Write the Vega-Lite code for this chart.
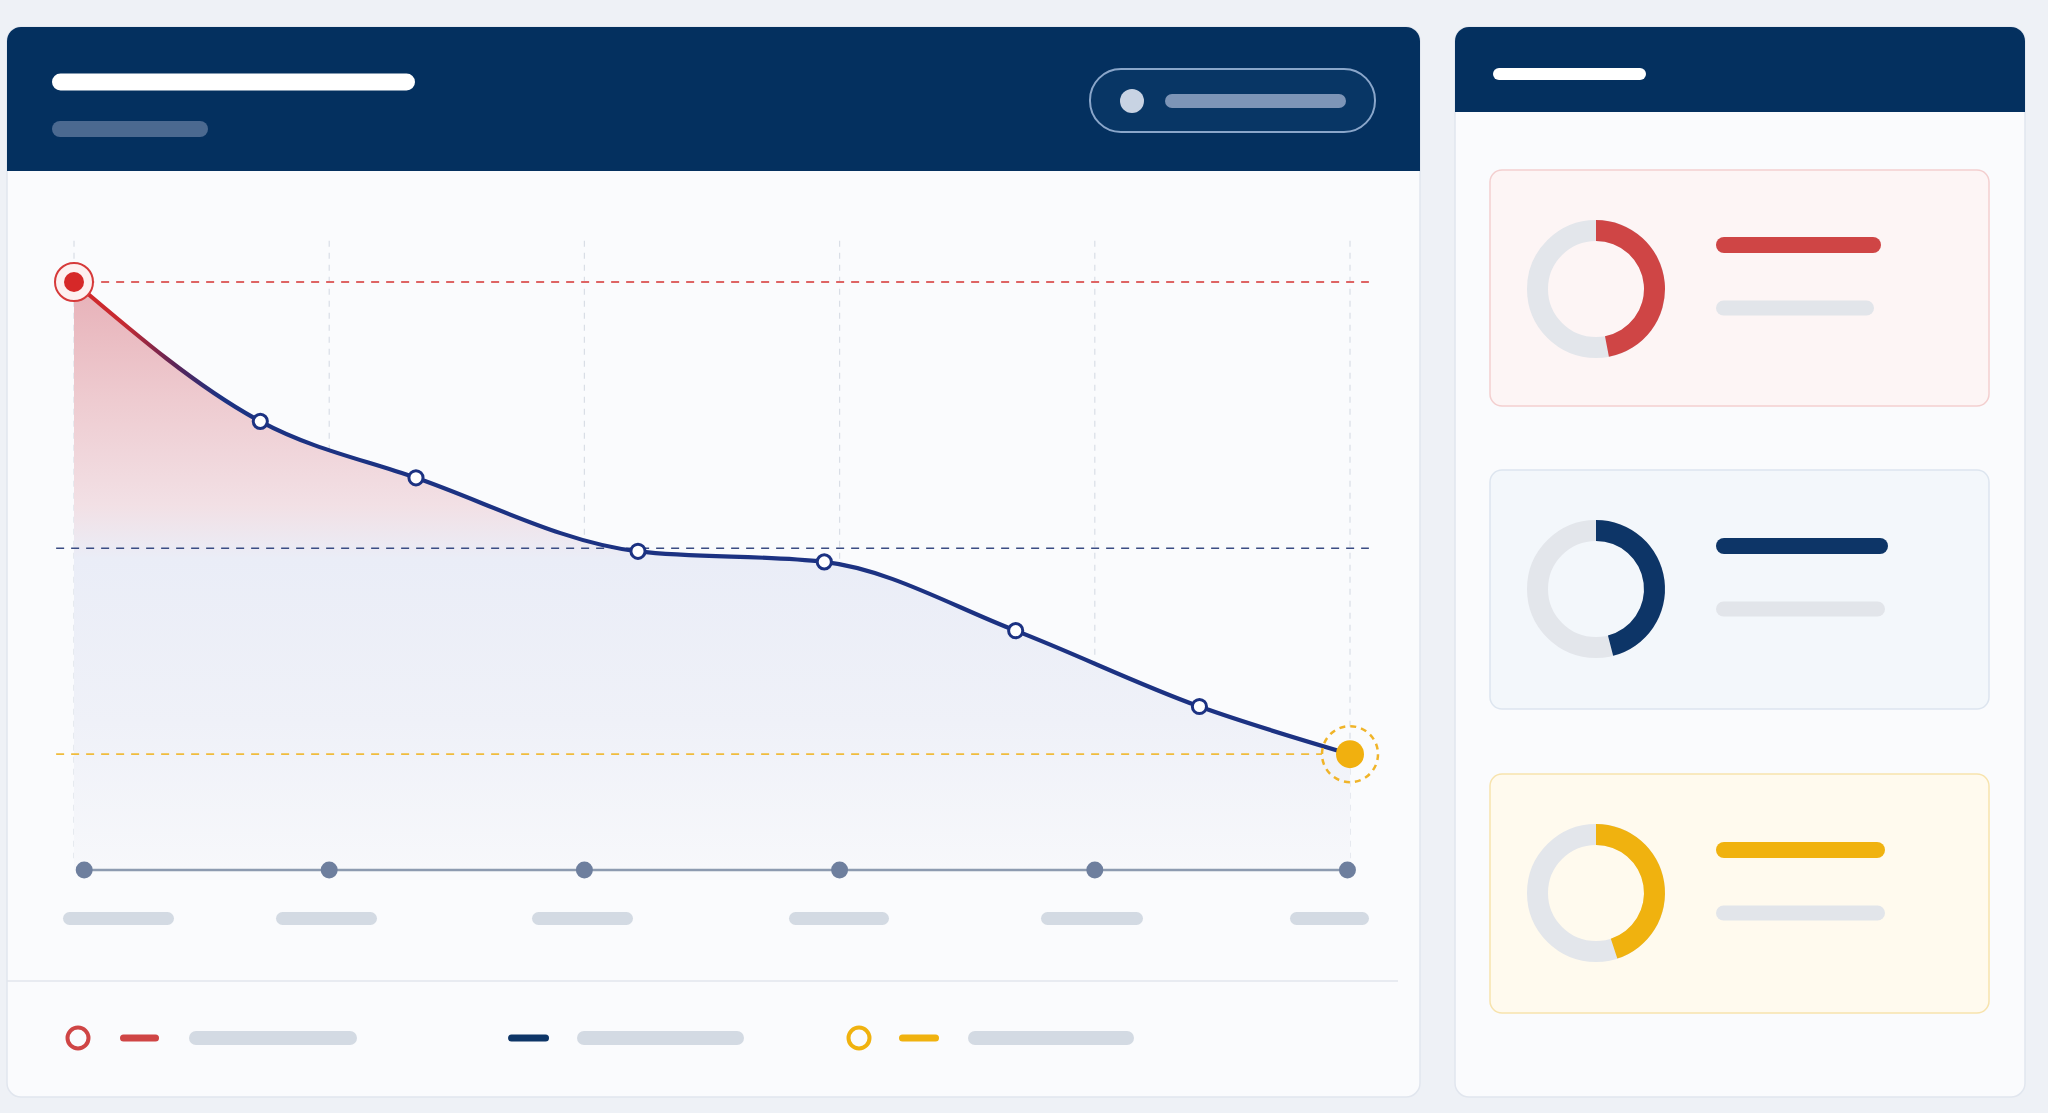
{
  "$schema": "https://vega.github.io/schema/vega-lite/v6.json",
  "width": 2048,
  "height": 1113,
  "autosize": {"type": "fit", "contains": "padding"},
  "padding": 0,
  "background": "#eef1f6",
  "config": {"view": {"stroke": null}, "axis": {"disable": true}, "legend": {"disable": true}},
  "datasets": {
    "panels": [
      {"panel": "trend", "x1": 7, "x2": 1420, "y1": 27, "y2": 1097},
      {"panel": "status", "x1": 1455, "x2": 2025, "y1": 27, "y2": 1097}
    ],
    "headers": [
      {"panel": "trend", "x1": 7, "x2": 1420, "y1": 27, "y2": 171},
      {"panel": "status", "x1": 1455, "x2": 2025, "y1": 27, "y2": 112}
    ],
    "toggle": [{"x1": 1090, "x2": 1375, "y1": 69, "y2": 132, "dotX": 1132, "dotY": 101}],
    "cards": [
      {"card": "peak", "x1": 1490, "x2": 1989, "y1": 170, "y2": 406},
      {"card": "average", "x1": 1490, "x2": 1989, "y1": 470, "y2": 709},
      {"card": "latest", "x1": 1490, "x2": 1989, "y1": 774, "y2": 1013}
    ],
    "dividers": [{"x1": 7, "x2": 1398, "y": 981}],
    "placeholders": [
      {"slot": "title", "x1": 60.5, "x2": 406.5, "y": 82},
      {"slot": "subtitle", "x1": 60, "x2": 200, "y": 129},
      {"slot": "toggleLabel", "x1": 1172, "x2": 1339, "y": 101},
      {"slot": "panelTitle", "x1": 1499, "x2": 1640, "y": 74},
      {"slot": "cardValue", "card": "peak", "x1": 1724, "x2": 1873, "y": 245},
      {"slot": "cardValue", "card": "average", "x1": 1724, "x2": 1880, "y": 546},
      {"slot": "cardValue", "card": "latest", "x1": 1724, "x2": 1877, "y": 850},
      {"slot": "cardNote", "x1": 1723.5, "x2": 1866.5, "y": 308},
      {"slot": "cardNote", "x1": 1723.5, "x2": 1877.5, "y": 609},
      {"slot": "cardNote", "x1": 1723.5, "x2": 1877.5, "y": 913},
      {"slot": "tickLabel", "x1": 69.5, "x2": 167.5, "y": 918.5},
      {"slot": "tickLabel", "x1": 282.5, "x2": 370.5, "y": 918.5},
      {"slot": "tickLabel", "x1": 538.5, "x2": 626.5, "y": 918.5},
      {"slot": "tickLabel", "x1": 795.5, "x2": 882.5, "y": 918.5},
      {"slot": "tickLabel", "x1": 1047.5, "x2": 1136.5, "y": 918.5},
      {"slot": "tickLabel", "x1": 1296.5, "x2": 1362.5, "y": 918.5},
      {"slot": "legendKey", "card": "peak", "x1": 123.5, "x2": 155.5, "y": 1038},
      {"slot": "legendKey", "card": "average", "x1": 511.5, "x2": 545.5, "y": 1038},
      {"slot": "legendKey", "card": "latest", "x1": 902.5, "x2": 935.5, "y": 1038},
      {"slot": "legendLabel", "x1": 196, "x2": 350, "y": 1038},
      {"slot": "legendLabel", "x1": 584, "x2": 737, "y": 1038},
      {"slot": "legendLabel", "x1": 975, "x2": 1127, "y": 1038}
    ],
    "legendMarks": [
      {"card": "peak", "x": 78, "y": 1038},
      {"card": "latest", "x": 859, "y": 1038}
    ],
    "shares": [
      {"card": "peak", "share": 47, "x": 1596, "y": 289},
      {"card": "average", "share": 46, "x": 1596, "y": 589},
      {"card": "latest", "share": 45, "x": 1596, "y": 893}
    ],
    "series": [
      {"t": 0, "v": 100},
      {"t": 0.73, "v": 76.3},
      {"t": 1.34, "v": 66.7},
      {"t": 2.21, "v": 54.2},
      {"t": 2.94, "v": 52.4},
      {"t": 3.69, "v": 40.7},
      {"t": 4.41, "v": 27.8},
      {"t": 5, "v": 19.7}
    ],
    "ticks": [{"t": 0}, {"t": 1}, {"t": 2}, {"t": 3}, {"t": 4}, {"t": 5}],
    "axisStops": [{"t": 0.04}, {"t": 1}, {"t": 2}, {"t": 3}, {"t": 4}, {"t": 4.99}]
  },
  "resolve": {"scale": {"x": "independent", "y": "independent"}},
  "layer": [
    {
      "layer": [
        {
          "data": {"name": "panels"},
          "mark": {"type": "rect", "cornerRadius": 16, "fill": "#d8dfe9", "opacity": 0.45, "yOffset": 3},
          "encoding": {
            "x": {"field": "x1", "type": "quantitative", "scale": {"domain": [0, 2048], "range": [0, 2048], "nice": false, "zero": false}},
            "x2": {"field": "x2"},
            "y": {"field": "y1", "type": "quantitative", "scale": {"domain": [0, 1113], "range": [0, 1113], "nice": false, "zero": false}},
            "y2": {"field": "y2"}
          }
        },
        {
          "data": {"name": "panels"},
          "mark": {"type": "rect", "cornerRadius": 14, "fill": "#fafbfd", "stroke": "#e1e6ee", "strokeWidth": 1.5},
          "encoding": {
            "x": {"field": "x1", "type": "quantitative", "scale": {"domain": [0, 2048], "range": [0, 2048], "nice": false, "zero": false}},
            "x2": {"field": "x2"},
            "y": {"field": "y1", "type": "quantitative", "scale": {"domain": [0, 1113], "range": [0, 1113], "nice": false, "zero": false}},
            "y2": {"field": "y2"}
          }
        },
        {
          "data": {"name": "headers"},
          "mark": {"type": "rect", "cornerRadiusTopLeft": 14, "cornerRadiusTopRight": 14, "fill": "#04305f"},
          "encoding": {
            "x": {"field": "x1", "type": "quantitative", "scale": {"domain": [0, 2048], "range": [0, 2048], "nice": false, "zero": false}},
            "x2": {"field": "x2"},
            "y": {"field": "y1", "type": "quantitative", "scale": {"domain": [0, 1113], "range": [0, 1113], "nice": false, "zero": false}},
            "y2": {"field": "y2"}
          }
        },
        {
          "data": {"name": "toggle"},
          "mark": {"type": "rect", "cornerRadius": 31, "fill": "#083665", "stroke": "#8aa6ca", "strokeWidth": 2},
          "encoding": {
            "x": {"field": "x1", "type": "quantitative", "scale": {"domain": [0, 2048], "range": [0, 2048], "nice": false, "zero": false}},
            "x2": {"field": "x2"},
            "y": {"field": "y1", "type": "quantitative", "scale": {"domain": [0, 1113], "range": [0, 1113], "nice": false, "zero": false}},
            "y2": {"field": "y2"}
          }
        },
        {
          "data": {"name": "toggle"},
          "mark": {"type": "point", "shape": "circle", "filled": true, "fill": "#c8d3e3", "opacity": 1, "size": 576},
          "encoding": {
            "x": {"field": "dotX", "type": "quantitative", "scale": {"domain": [0, 2048], "range": [0, 2048], "nice": false, "zero": false}},
            "y": {"field": "dotY", "type": "quantitative", "scale": {"domain": [0, 1113], "range": [0, 1113], "nice": false, "zero": false}}
          }
        },
        {
          "data": {"name": "cards"},
          "mark": {"type": "rect", "cornerRadius": 12, "strokeWidth": 1.5},
          "encoding": {
            "x": {"field": "x1", "type": "quantitative", "scale": {"domain": [0, 2048], "range": [0, 2048], "nice": false, "zero": false}},
            "x2": {"field": "x2"},
            "y": {"field": "y1", "type": "quantitative", "scale": {"domain": [0, 1113], "range": [0, 1113], "nice": false, "zero": false}},
            "y2": {"field": "y2"},
            "fill": {"field": "card", "type": "nominal", "scale": {"domain": ["peak", "average", "latest"], "range": ["#fdf5f5", "#f3f7fb", "#fffaee"]}},
            "stroke": {"field": "card", "type": "nominal", "scale": {"domain": ["peak", "average", "latest"], "range": ["#f3cfcf", "#dde5ef", "#f7e3ad"]}}
          }
        },
        {
          "data": {"name": "dividers"},
          "mark": {"type": "rule", "stroke": "#e2e6ed", "strokeWidth": 1.5},
          "encoding": {
            "x": {"field": "x1", "type": "quantitative", "scale": {"domain": [0, 2048], "range": [0, 2048], "nice": false, "zero": false}},
            "x2": {"field": "x2"},
            "y": {"field": "y", "type": "quantitative", "scale": {"domain": [0, 1113], "range": [0, 1113], "nice": false, "zero": false}}
          }
        },
        {
          "data": {"name": "placeholders"},
          "transform": [{"filter": "datum.slot === 'title'"}],
          "mark": {"type": "rule", "stroke": "#ffffff", "strokeWidth": 17, "strokeCap": "round"},
          "encoding": {
            "x": {"field": "x1", "type": "quantitative", "scale": {"domain": [0, 2048], "range": [0, 2048], "nice": false, "zero": false}},
            "x2": {"field": "x2"},
            "y": {"field": "y", "type": "quantitative", "scale": {"domain": [0, 1113], "range": [0, 1113], "nice": false, "zero": false}}
          }
        },
        {
          "data": {"name": "placeholders"},
          "transform": [{"filter": "datum.slot === 'subtitle'"}],
          "mark": {"type": "rule", "stroke": "#4b6990", "strokeWidth": 16, "strokeCap": "round"},
          "encoding": {
            "x": {"field": "x1", "type": "quantitative", "scale": {"domain": [0, 2048], "range": [0, 2048], "nice": false, "zero": false}},
            "x2": {"field": "x2"},
            "y": {"field": "y", "type": "quantitative", "scale": {"domain": [0, 1113], "range": [0, 1113], "nice": false, "zero": false}}
          }
        },
        {
          "data": {"name": "placeholders"},
          "transform": [{"filter": "datum.slot === 'toggleLabel'"}],
          "mark": {"type": "rule", "stroke": "#7d95b7", "strokeWidth": 14, "strokeCap": "round"},
          "encoding": {
            "x": {"field": "x1", "type": "quantitative", "scale": {"domain": [0, 2048], "range": [0, 2048], "nice": false, "zero": false}},
            "x2": {"field": "x2"},
            "y": {"field": "y", "type": "quantitative", "scale": {"domain": [0, 1113], "range": [0, 1113], "nice": false, "zero": false}}
          }
        },
        {
          "data": {"name": "placeholders"},
          "transform": [{"filter": "datum.slot === 'panelTitle'"}],
          "mark": {"type": "rule", "stroke": "#ffffff", "strokeWidth": 12, "strokeCap": "round"},
          "encoding": {
            "x": {"field": "x1", "type": "quantitative", "scale": {"domain": [0, 2048], "range": [0, 2048], "nice": false, "zero": false}},
            "x2": {"field": "x2"},
            "y": {"field": "y", "type": "quantitative", "scale": {"domain": [0, 1113], "range": [0, 1113], "nice": false, "zero": false}}
          }
        },
        {
          "data": {"name": "placeholders"},
          "transform": [{"filter": "datum.slot === 'cardValue'"}],
          "mark": {"type": "rule", "strokeWidth": 16, "strokeCap": "round"},
          "encoding": {
            "x": {"field": "x1", "type": "quantitative", "scale": {"domain": [0, 2048], "range": [0, 2048], "nice": false, "zero": false}},
            "x2": {"field": "x2"},
            "y": {"field": "y", "type": "quantitative", "scale": {"domain": [0, 1113], "range": [0, 1113], "nice": false, "zero": false}},
            "color": {"field": "card", "type": "nominal", "scale": {"domain": ["peak", "average", "latest"], "range": ["#cf4545", "#0d3567", "#f0b20f"]}}
          }
        },
        {
          "data": {"name": "placeholders"},
          "transform": [{"filter": "datum.slot === 'cardNote'"}],
          "mark": {"type": "rule", "stroke": "#e2e5ea", "strokeWidth": 15, "strokeCap": "round"},
          "encoding": {
            "x": {"field": "x1", "type": "quantitative", "scale": {"domain": [0, 2048], "range": [0, 2048], "nice": false, "zero": false}},
            "x2": {"field": "x2"},
            "y": {"field": "y", "type": "quantitative", "scale": {"domain": [0, 1113], "range": [0, 1113], "nice": false, "zero": false}}
          }
        },
        {
          "data": {"name": "placeholders"},
          "transform": [{"filter": "datum.slot === 'tickLabel'"}],
          "mark": {"type": "rule", "stroke": "#d3dae3", "strokeWidth": 13, "strokeCap": "round"},
          "encoding": {
            "x": {"field": "x1", "type": "quantitative", "scale": {"domain": [0, 2048], "range": [0, 2048], "nice": false, "zero": false}},
            "x2": {"field": "x2"},
            "y": {"field": "y", "type": "quantitative", "scale": {"domain": [0, 1113], "range": [0, 1113], "nice": false, "zero": false}}
          }
        },
        {
          "data": {"name": "placeholders"},
          "transform": [{"filter": "datum.slot === 'legendKey'"}],
          "mark": {"type": "rule", "strokeWidth": 7, "strokeCap": "round"},
          "encoding": {
            "x": {"field": "x1", "type": "quantitative", "scale": {"domain": [0, 2048], "range": [0, 2048], "nice": false, "zero": false}},
            "x2": {"field": "x2"},
            "y": {"field": "y", "type": "quantitative", "scale": {"domain": [0, 1113], "range": [0, 1113], "nice": false, "zero": false}},
            "color": {"field": "card", "type": "nominal", "scale": {"domain": ["peak", "average", "latest"], "range": ["#cf4545", "#0d3567", "#f0b20f"]}}
          }
        },
        {
          "data": {"name": "placeholders"},
          "transform": [{"filter": "datum.slot === 'legendLabel'"}],
          "mark": {"type": "rule", "stroke": "#d3dae3", "strokeWidth": 14, "strokeCap": "round"},
          "encoding": {
            "x": {"field": "x1", "type": "quantitative", "scale": {"domain": [0, 2048], "range": [0, 2048], "nice": false, "zero": false}},
            "x2": {"field": "x2"},
            "y": {"field": "y", "type": "quantitative", "scale": {"domain": [0, 1113], "range": [0, 1113], "nice": false, "zero": false}}
          }
        },
        {
          "data": {"name": "legendMarks"},
          "mark": {"type": "point", "shape": "circle", "filled": false, "strokeWidth": 4, "size": 441, "opacity": 1},
          "encoding": {
            "x": {"field": "x", "type": "quantitative", "scale": {"domain": [0, 2048], "range": [0, 2048], "nice": false, "zero": false}},
            "y": {"field": "y", "type": "quantitative", "scale": {"domain": [0, 1113], "range": [0, 1113], "nice": false, "zero": false}},
            "color": {"field": "card", "type": "nominal", "scale": {"domain": ["peak", "average", "latest"], "range": ["#cf4545", "#0d3567", "#f0b20f"]}}
          }
        },
        {
          "data": {"name": "shares"},
          "mark": {"type": "point", "shape": "circle", "filled": false, "stroke": "#e3e6eb", "strokeWidth": 21, "size": 13689, "opacity": 1},
          "encoding": {
            "x": {"field": "x", "type": "quantitative", "scale": {"domain": [0, 2048], "range": [0, 2048], "nice": false, "zero": false}},
            "y": {"field": "y", "type": "quantitative", "scale": {"domain": [0, 1113], "range": [0, 1113], "nice": false, "zero": false}}
          }
        },
        {
          "data": {"name": "shares"},
          "mark": {"type": "arc", "innerRadius": 48, "outerRadius": 69},
          "encoding": {
            "x": {"field": "x", "type": "quantitative", "scale": {"domain": [0, 2048], "range": [0, 2048], "nice": false, "zero": false}},
            "y": {"field": "y", "type": "quantitative", "scale": {"domain": [0, 1113], "range": [0, 1113], "nice": false, "zero": false}},
            "theta": {"field": "share", "type": "quantitative", "stack": null, "scale": {"domain": [0, 100], "range": [0, 6.283185]}},
            "color": {"field": "card", "type": "nominal", "scale": {"domain": ["peak", "average", "latest"], "range": ["#cf4545", "#0d3567", "#f0b20f"]}}
          }
        }
      ]
    },
    {
      "layer": [
        {
          "data": {"name": "ticks"},
          "mark": {"type": "rule", "stroke": "#d9dee6", "strokeWidth": 1.2, "strokeDash": [6, 6]},
          "encoding": {
            "x": {"field": "t", "type": "quantitative", "scale": {"domain": [0, 5], "range": [74, 1350], "nice": false, "zero": false}},
            "y": {"datum": 107, "type": "quantitative", "scale": {"domain": [0, 100], "range": [870, 282], "nice": false, "zero": false}},
            "y2": {"datum": 2}
          }
        },
        {
          "data": {"name": "series"},
          "mark": {
            "type": "area",
            "interpolate": "monotone",
            "line": false,
            "fill": {
              "gradient": "linear", "x1": 0, "y1": 0, "x2": 0, "y2": 1,
              "stops": [
                {"offset": 0, "color": "#e7b0b7"},
                {"offset": 0.2, "color": "#eecbd0"},
                {"offset": 0.38, "color": "#f2e0e5"},
                {"offset": 0.47, "color": "#eaedf7"},
                {"offset": 0.75, "color": "#eff1f8"},
                {"offset": 1, "color": "#f7f8fb"}
              ]
            }
          },
          "encoding": {
            "x": {"field": "t", "type": "quantitative", "scale": {"domain": [0, 5], "range": [74, 1350], "nice": false, "zero": false}},
            "y": {"field": "v", "type": "quantitative", "scale": {"domain": [0, 100], "range": [870, 282], "nice": false, "zero": false}},
            "y2": {"datum": 0}
          }
        },
        {
          "data": {"name": "series"},
          "transform": [{"aggregate": [{"op": "max", "field": "v", "as": "peakLevel"}]}],
          "mark": {"type": "rule", "stroke": "#de6464", "strokeWidth": 1.8, "strokeDash": [8, 7]},
          "encoding": {
            "x": {"datum": -0.07, "type": "quantitative", "scale": {"domain": [0, 5], "range": [74, 1350], "nice": false, "zero": false}},
            "x2": {"datum": 5.074},
            "y": {"field": "peakLevel", "type": "quantitative", "scale": {"domain": [0, 100], "range": [870, 282], "nice": false, "zero": false}}
          }
        },
        {
          "data": {"name": "series"},
          "transform": [{"aggregate": [{"op": "mean", "field": "v", "as": "meanLevel"}]}],
          "mark": {"type": "rule", "stroke": "#3a4c84", "strokeWidth": 1.6, "strokeDash": [8, 7]},
          "encoding": {
            "x": {"datum": -0.07, "type": "quantitative", "scale": {"domain": [0, 5], "range": [74, 1350], "nice": false, "zero": false}},
            "x2": {"datum": 5.074},
            "y": {"field": "meanLevel", "type": "quantitative", "scale": {"domain": [0, 100], "range": [870, 282], "nice": false, "zero": false}}
          }
        },
        {
          "data": {"name": "series"},
          "transform": [{"aggregate": [{"op": "min", "field": "v", "as": "lowLevel"}]}],
          "mark": {"type": "rule", "stroke": "#f0bc3c", "strokeWidth": 1.8, "strokeDash": [8, 7]},
          "encoding": {
            "x": {"datum": -0.07, "type": "quantitative", "scale": {"domain": [0, 5], "range": [74, 1350], "nice": false, "zero": false}},
            "x2": {"datum": 4.89},
            "y": {"field": "lowLevel", "type": "quantitative", "scale": {"domain": [0, 100], "range": [870, 282], "nice": false, "zero": false}}
          }
        },
        {
          "data": {"values": [{}]},
          "mark": {"type": "rule", "stroke": "#8d9bb0", "strokeWidth": 2.5},
          "encoding": {
            "x": {"datum": 0.04, "type": "quantitative", "scale": {"domain": [0, 5], "range": [74, 1350], "nice": false, "zero": false}},
            "x2": {"datum": 4.99},
            "y": {"datum": 0, "type": "quantitative", "scale": {"domain": [0, 100], "range": [870, 282], "nice": false, "zero": false}}
          }
        },
        {
          "data": {"name": "axisStops"},
          "mark": {"type": "point", "shape": "circle", "filled": true, "fill": "#6e7f9e", "opacity": 1, "size": 289},
          "encoding": {
            "x": {"field": "t", "type": "quantitative", "scale": {"domain": [0, 5], "range": [74, 1350], "nice": false, "zero": false}},
            "y": {"datum": 0, "type": "quantitative", "scale": {"domain": [0, 100], "range": [870, 282], "nice": false, "zero": false}}
          }
        },
        {
          "data": {"name": "series"},
          "mark": {
            "type": "line",
            "interpolate": "monotone",
            "strokeWidth": 4.2,
            "stroke": {
              "gradient": "linear", "x1": 0, "y1": 0, "x2": 1, "y2": 0,
              "stops": [
                {"offset": 0, "color": "#d62828"},
                {"offset": 0.04, "color": "#c42a32"},
                {"offset": 0.08, "color": "#5a2458"},
                {"offset": 0.115, "color": "#1c3282"},
                {"offset": 1, "color": "#1c3282"}
              ]
            }
          },
          "encoding": {
            "x": {"field": "t", "type": "quantitative", "scale": {"domain": [0, 5], "range": [74, 1350], "nice": false, "zero": false}},
            "y": {"field": "v", "type": "quantitative", "scale": {"domain": [0, 100], "range": [870, 282], "nice": false, "zero": false}}
          }
        },
        {
          "data": {"name": "series"},
          "transform": [{"filter": "datum.t > 0 && datum.t < 5"}],
          "mark": {"type": "point", "shape": "circle", "filled": true, "fill": "#ffffff", "stroke": "#1c3282", "strokeWidth": 3, "size": 200, "opacity": 1},
          "encoding": {
            "x": {"field": "t", "type": "quantitative", "scale": {"domain": [0, 5], "range": [74, 1350], "nice": false, "zero": false}},
            "y": {"field": "v", "type": "quantitative", "scale": {"domain": [0, 100], "range": [870, 282], "nice": false, "zero": false}}
          }
        },
        {
          "data": {"name": "series"},
          "transform": [{"filter": "datum.t === 0"}],
          "mark": {"type": "point", "shape": "circle", "filled": true, "fill": "#fdf0f0", "stroke": "#d63a3a", "strokeWidth": 2, "size": 1444, "opacity": 1},
          "encoding": {
            "x": {"field": "t", "type": "quantitative", "scale": {"domain": [0, 5], "range": [74, 1350], "nice": false, "zero": false}},
            "y": {"field": "v", "type": "quantitative", "scale": {"domain": [0, 100], "range": [870, 282], "nice": false, "zero": false}}
          }
        },
        {
          "data": {"name": "series"},
          "transform": [{"filter": "datum.t === 0"}],
          "mark": {"type": "point", "shape": "circle", "filled": true, "fill": "#d62828", "size": 400, "opacity": 1},
          "encoding": {
            "x": {"field": "t", "type": "quantitative", "scale": {"domain": [0, 5], "range": [74, 1350], "nice": false, "zero": false}},
            "y": {"field": "v", "type": "quantitative", "scale": {"domain": [0, 100], "range": [870, 282], "nice": false, "zero": false}}
          }
        },
        {
          "data": {"name": "series"},
          "transform": [{"filter": "datum.t === 5"}],
          "mark": {"type": "point", "shape": "circle", "filled": false, "stroke": "#f0b429", "strokeWidth": 2.5, "strokeDash": [6, 5], "size": 3136, "opacity": 1},
          "encoding": {
            "x": {"field": "t", "type": "quantitative", "scale": {"domain": [0, 5], "range": [74, 1350], "nice": false, "zero": false}},
            "y": {"field": "v", "type": "quantitative", "scale": {"domain": [0, 100], "range": [870, 282], "nice": false, "zero": false}}
          }
        },
        {
          "data": {"name": "series"},
          "transform": [{"filter": "datum.t === 5"}],
          "mark": {"type": "point", "shape": "circle", "filled": true, "fill": "#f1b00f", "size": 784, "opacity": 1},
          "encoding": {
            "x": {"field": "t", "type": "quantitative", "scale": {"domain": [0, 5], "range": [74, 1350], "nice": false, "zero": false}},
            "y": {"field": "v", "type": "quantitative", "scale": {"domain": [0, 100], "range": [870, 282], "nice": false, "zero": false}}
          }
        }
      ]
    }
  ]
}
